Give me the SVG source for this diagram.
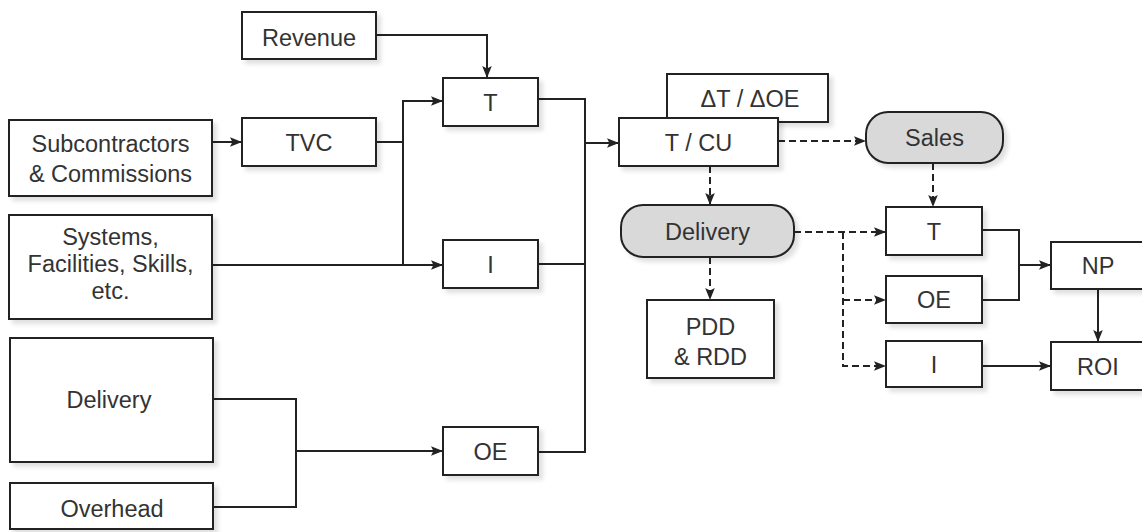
<svg xmlns="http://www.w3.org/2000/svg" width="1142" height="532" viewBox="0 0 1142 532">
<style>
.box{fill:#fff;stroke:#222;stroke-width:2;filter:url(#sh)}
.pill{fill:#d9d9d9;stroke:#222;stroke-width:2;filter:url(#sh)}
text{font-family:"Liberation Sans",Arial,sans-serif;font-size:23.5px;fill:#333;text-anchor:middle}
.c{fill:none;stroke:#222;stroke-width:2}
.d{fill:none;stroke:#222;stroke-width:2;stroke-dasharray:7 4}
.a{marker-end:url(#ah)}
</style>
<defs>
<marker id="ah" viewBox="0 0 10 10" refX="10" refY="5" markerWidth="6" markerHeight="6" orient="auto" markerUnits="strokeWidth">
<path d="M0,1 L10,5 L0,9 L2,5 Z" fill="#222"/>
</marker>
<filter id="sh" x="-10%" y="-10%" width="130%" height="140%">
<feDropShadow dx="4" dy="4" stdDeviation="2" flood-color="#000" flood-opacity="0.12"/>
</filter>
</defs>
<rect width="1142" height="532" fill="#fff"/>
<g id="connectors">
<path class="c a" d="M376,35 H487 V78"/>
<path class="c a" d="M212,142 H242"/>
<path class="c" d="M376,142 H403"/>
<path class="c a" d="M403,265 V101 H443"/>
<path class="c a" d="M212,265 H443"/>
<path class="c" d="M538,99 H585 V452 H538"/>
<path class="c" d="M538,264 H585"/>
<path class="c a" d="M585,143 H619"/>
<path class="c" d="M213,399 H296 V507 H213"/>
<path class="c a" d="M296,451 H443"/>
<path class="d a" d="M710,166 V205"/>
<path class="d a" d="M778,141 H866"/>
<path class="d a" d="M933,163 V207"/>
<path class="d a" d="M794,232 H886"/>
<path class="d a" d="M843,232 V366 H886"/>
<path class="d a" d="M843,300 H886"/>
<path class="d a" d="M710,257 V300"/>
<path class="c" d="M982,230 H1019 V300 H982"/>
<path class="c a" d="M1019,265 H1051"/>
<path class="c a" d="M1098,289 V342"/>
<path class="c a" d="M982,366 H1051"/>
</g>
<g id="revenue"><rect class="box" x="242" y="12" width="134" height="47"/><text x="309" y="46">Revenue</text></g>
<g id="subcontractors"><rect class="box" x="9" y="120" width="203" height="76"/><text x="110.5" y="152">Subcontractors</text><text x="110.5" y="182">&amp; Commissions</text></g>
<g id="tvc"><rect class="box" x="242" y="118" width="134" height="48"/><text x="309" y="151">TVC</text></g>
<g id="systems"><rect class="box" x="9" y="215" width="203" height="104"/><text x="110.5" y="245">Systems,</text><text x="110.5" y="272">Facilities, Skills,</text><text x="110.5" y="299">etc.</text></g>
<g id="delivery-left"><rect class="box" x="10" y="338" width="203" height="124"/><text x="109" y="408">Delivery</text></g>
<g id="overhead"><rect class="box" x="10" y="483" width="203" height="46"/><text x="112" y="517">Overhead</text></g>
<g id="t1"><rect class="box" x="443" y="78" width="95" height="48"/><text x="490.5" y="110.5">T</text></g>
<g id="i1"><rect class="box" x="443" y="240" width="95" height="48"/><text x="490.5" y="272.5">I</text></g>
<g id="oe1"><rect class="box" x="443" y="427" width="95" height="48"/><text x="490.5" y="459.5">OE</text></g>
<g id="dt-doe"><rect class="box" x="667" y="74" width="161" height="48"/><text x="750" y="106.5">ΔT /  ΔOE</text></g>
<g id="tcu"><rect class="box" x="619" y="118" width="159" height="48"/><text x="698.5" y="150.5">T / CU</text></g>
<g id="sales"><rect class="pill" x="866" y="112" width="137" height="51" rx="22"/><text x="934.5" y="146">Sales</text></g>
<g id="delivery-pill"><rect class="pill" x="621" y="205" width="173" height="52" rx="22"/><text x="707.5" y="239.5">Delivery</text></g>
<g id="pdd"><rect class="box" x="647" y="300" width="127" height="78"/><text x="710.5" y="335">PDD</text><text x="710.5" y="365">&amp; RDD</text></g>
<g id="t2"><rect class="box" x="886" y="207" width="96" height="48"/><text x="934" y="239.5">T</text></g>
<g id="oe2"><rect class="box" x="886" y="276" width="96" height="47"/><text x="934" y="308">OE</text></g>
<g id="i2"><rect class="box" x="886" y="341" width="96" height="46"/><text x="934" y="372.5">I</text></g>
<g id="np"><rect class="box" x="1051" y="242" width="94" height="47"/><text x="1098" y="274">NP</text></g>
<g id="roi"><rect class="box" x="1051" y="342" width="94" height="48"/><text x="1098" y="374.5">ROI</text></g>
</svg>
